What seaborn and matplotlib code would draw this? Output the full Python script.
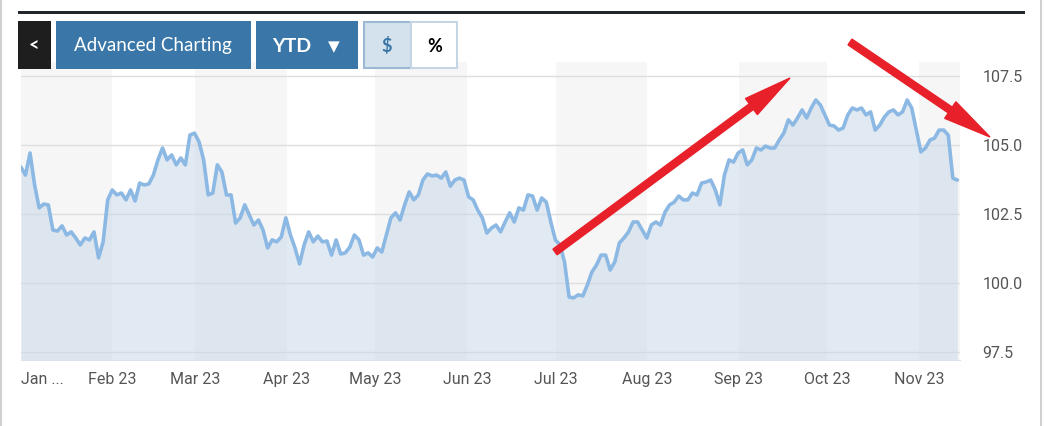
import pandas as pd
import numpy as np
import matplotlib
matplotlib.use("Agg")
import matplotlib.pyplot as plt
import seaborn as sns
from matplotlib.patches import Rectangle, FancyArrow

# price values, Jan 3 .. Nov 14 2023
values = [104.2, 103.91, 104.71, 103.55, 102.72, 102.86, 102.83, 101.92, 101.88, 102.07,
          101.74, 101.85, 101.63, 101.38, 101.63, 101.56, 101.85, 100.91, 101.49, 103.01,
          103.37, 103.19, 103.26, 103.01, 103.37, 102.97, 103.62, 103.55, 103.59, 103.91,
          104.46, 104.89, 104.46, 104.64, 104.28, 104.53, 104.28, 105.36, 105.43, 105.11,
          104.46, 103.19, 103.26, 104.28, 104.02, 103.19, 103.19, 102.17, 102.36, 102.83,
          102.46, 102.1, 102.28, 101.92, 101.27, 101.56, 101.49, 101.67, 102.36, 101.74,
          101.27, 100.69, 101.38, 101.85, 101.49, 101.7, 101.49, 101.52, 101.01, 101.56,
          101.05, 101.09, 101.3, 101.74, 101.56, 101.01, 101.09, 100.94, 101.27, 101.12,
          101.74, 102.36, 102.54, 102.28, 102.83, 103.3, 103.01, 103.19, 103.73, 103.95,
          103.88, 103.91, 103.8, 104.02, 103.51, 103.73, 103.8, 103.73, 103.12, 103.01,
          102.64, 102.36, 101.81, 101.99, 102.1, 101.85, 102.21, 102.54, 102.21, 102.72,
          102.64, 103.19, 103.15, 102.64, 103.08, 102.93, 102.21, 101.56, 101.38, 100.76,
          99.49, 99.46, 99.57, 99.53, 99.93, 100.4, 100.65, 101.01, 101.01, 100.47,
          100.76, 101.45, 101.63, 101.85, 102.21, 102.21, 101.92, 101.63, 102.1, 102.21,
          102.1, 102.57, 102.83, 102.93, 103.15, 103.01, 103.01, 103.26, 103.19, 103.62,
          103.66, 103.73, 103.37, 102.83, 103.91, 104.46, 104.38, 104.71, 104.82, 104.28,
          104.46, 104.89, 104.82, 104.96, 104.89, 104.89, 105.18, 105.43, 105.91, 105.72,
          105.98, 106.27, 105.98, 106.34, 106.63, 106.45, 106.09, 105.72, 105.69, 105.54,
          105.62, 106.09, 106.34, 106.27, 106.34, 106.09, 106.2, 105.54, 105.72, 106.01,
          106.2, 106.27, 106.09, 106.2, 106.63, 106.34, 105.54, 104.75, 104.89, 105.18,
          105.25, 105.54, 105.54, 105.36, 103.8, 103.73]
dates = pd.date_range("2023-01-01", "2023-11-14", periods=len(values))
df = pd.DataFrame({"date": dates, "price": values})

month_starts = pd.date_range("2023-01-01", "2023-11-01", freq="MS")
month_labels = ["Jan ...", "Feb 23", "Mar 23", "Apr 23", "May 23", "Jun 23",
                "Jul 23", "Aug 23", "Sep 23", "Oct 23", "Nov 23"]
y_ticks = [97.5, 100.0, 102.5, 105.0, 107.5]

sns.set_style("white")
fig = plt.figure(figsize=(10.45, 4.26), dpi=100)
ax = fig.add_axes([0.020, 0.155, 0.899, 0.699])

x0, x1 = pd.Timestamp("2023-01-01"), pd.Timestamp("2023-11-15")
ax.set_xlim(x0, x1)
ax.set_ylim(97.21, 108.0)

# alternating month bands
edges = list(month_starts) + [x1]
for i in range(0, len(edges) - 1, 2):
    ax.axvspan(edges[i], edges[i + 1], color="#f6f6f6", zorder=0, lw=0)

for t in y_ticks:
    ax.axhline(t, color="#dedede", lw=1, zorder=1)

ax.fill_between(df["date"], df["price"], 97.21, color="#c9d9e8", alpha=0.55, zorder=2, lw=0)
sns.lineplot(data=df, x="date", y="price", ax=ax, color="#8cb8e4", lw=2.6, zorder=3)

ax.set_xticks(month_starts)
ax.set_xticklabels(month_labels, fontsize=11.5, color="#555555", family="Roboto")
ax.get_xticklabels()[0].set_ha("left")
ax.yaxis.tick_right()
ax.set_yticks(y_ticks)
ax.set_yticklabels([f"{t:.1f}" for t in y_ticks], fontsize=11.5, color="#555555", family="Roboto")
ax.tick_params(axis="y", length=0, pad=16)
ax.tick_params(axis="x", length=5, color="#c8d4e0", pad=4)
ax.set_xlabel("")
ax.set_ylabel("")
for s in ["top", "right", "left"]:
    ax.spines[s].set_visible(False)
ax.spines["bottom"].set_color("#dde3ea")

# frame elements in pixel coords
def px(x, y):
    return x / 1045, 1 - y / 426

def box(x, y, w, h, fc, ec=None, lw=0):
    fx, fy = px(x, y + h)
    fig.patches.append(Rectangle((fx, fy), w / 1045, h / 426, transform=fig.transFigure,
                                 facecolor=fc, edgecolor=ec or fc, lw=lw, zorder=5))

box(18, 11, 1007, 3, "#22262a")
box(0, 0, 2, 426, "#d0d0d0")
box(1040, 0, 2, 426, "#d0d0d0")
box(18, 21, 33, 48, "#1e1e1e")
box(56, 21, 195, 48, "#3a77a8")
box(256, 21, 102, 48, "#3a77a8")
box(364, 22, 47, 46, "#d4e2ed", "#9cb8d2", 1.5)
box(411, 22, 46, 46, "#ffffff", "#c4d6e6", 1.5)
tk = dict(ha="center", va="center", zorder=8)
fig.text(*px(34, 46), "<", color="white", fontsize=13, family="Lato", weight="bold", **tk)
fig.text(*px(153, 46), "Advanced Charting", color="white", fontsize=13.5, family="Lato", **tk)
fig.text(*px(292, 46), "YTD", color="white", fontsize=14, family="Lato", weight="bold", **tk)
fig.text(*px(334, 47), "▼", color="white", fontsize=11, family="DejaVu Sans", **tk)
fig.text(*px(387, 46), "$", color="#3a77a8", fontsize=13, family="Lato", weight="bold", **tk)
fig.text(*px(435, 46), "%", color="black", fontsize=13, family="Lato", weight="bold", **tk)

# red arrows
tr = matplotlib.transforms.Affine2D().scale(1 / 1045, 1 / 426) + fig.transFigure
for (xa, ya, xb, yb) in [(555, 252, 790, 78), (850, 42, 990, 137)]:
    fig.patches.append(FancyArrow(xa, 426 - ya, xb - xa, ya - yb,
                                  width=7, head_width=20, head_length=48,
                                  length_includes_head=True, color="#e8202a",
                                  transform=tr, zorder=6))

fig.savefig("out.png", dpi=100, facecolor="white")
